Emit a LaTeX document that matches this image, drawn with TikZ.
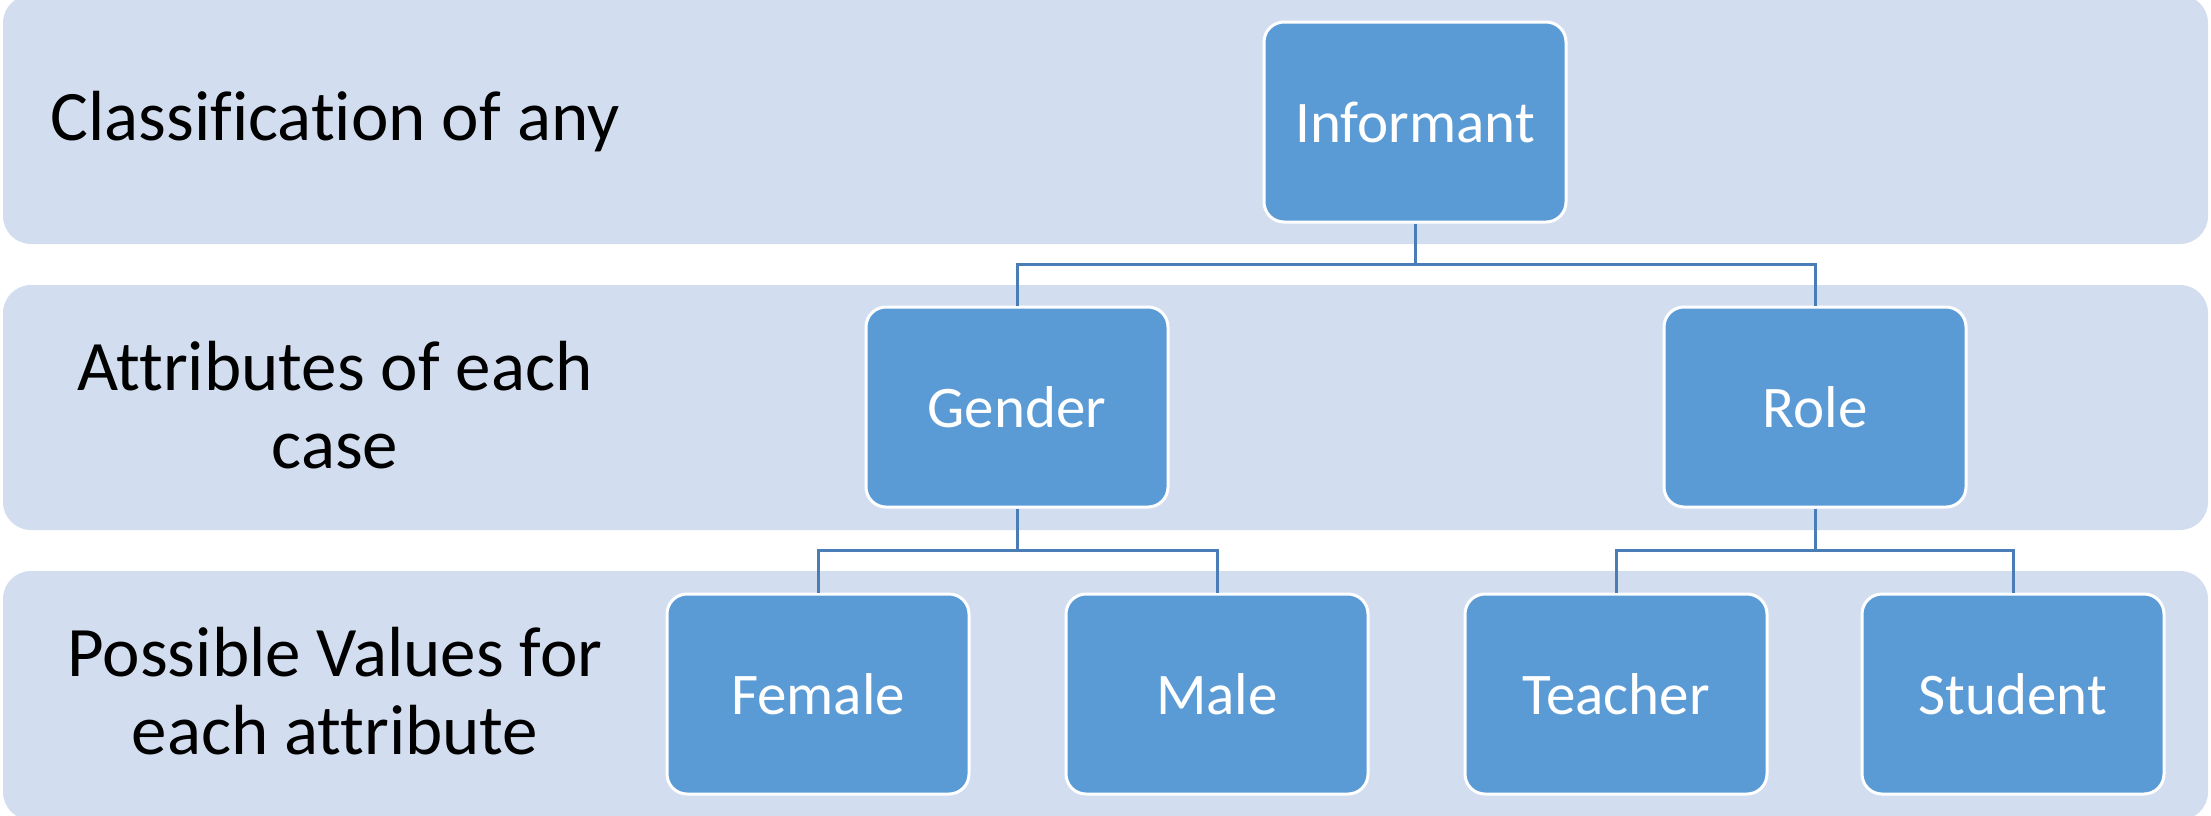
\documentclass[tikz,border=0pt]{standalone}
\usepackage{fontspec}
\setmainfont{Carlito}[Ligatures=NoCommon]
\definecolor{bandblue}{HTML}{D2DEEF}
\definecolor{boxblue}{HTML}{5B9BD5}
\definecolor{linkblue}{HTML}{4A7DB5}

\begin{document}
\begin{tikzpicture}[x=1pt,y=-1pt,
    band/.style={fill=bandblue, draw=none, rounded corners=28pt},
    level/.style={font=\fontsize{71}{78}\selectfont, align=center},
    item/.style={fill=boxblue, draw=white, line width=3pt, rounded corners=20pt,
        minimum width=302pt, minimum height=200pt, inner sep=0pt,
        text=white, font=\fontsize{59}{70}\selectfont},
    link/.style={draw=linkblue, line width=3pt}]
    \useasboundingbox (0,0) rectangle (2211,815);

    %Baand
        \fill[band] (3,-5) rectangle (2208,244);
        \fill[band] (3,285) rectangle (2208,530);
        \fill[band] (3,571) rectangle (2208,820);

    %Niveaer
        \node[level] (lab1) at (335,122) {Classification of any};
        \node[level] (lab2) at (335,405) {Attributes of each\\case};
        \node[level] (lab3) at (335,691) {Possible Values for\\each attribute};

    %Bokser
        \node[item] (inf) at (1415,122) {Informant};
        \node[item] (gen) at (1017,407) {Gender};
        \node[item] (rol) at (1815,407) {Role};
        \node[item] (fem) at (818,694) {Female};
        \node[item] (mal) at (1217,694) {Male};
        \node[item] (tea) at (1616,694) {Teacher};
        \node[item] (stu) at (2013,694) {Student};

    %Linjer
        \draw[link] (inf.south) -- ++(0,41) coordinate (j1);
        \draw[link] (gen.north) |- (j1) -| (rol.north);
        \draw[link] (gen.south) -- ++(0,42) coordinate (j2);
        \draw[link] (fem.north) |- (j2) -| (mal.north);
        \draw[link] (rol.south) -- ++(0,42) coordinate (j3);
        \draw[link] (tea.north) |- (j3) -| (stu.north);

\end{tikzpicture}
\end{document}
